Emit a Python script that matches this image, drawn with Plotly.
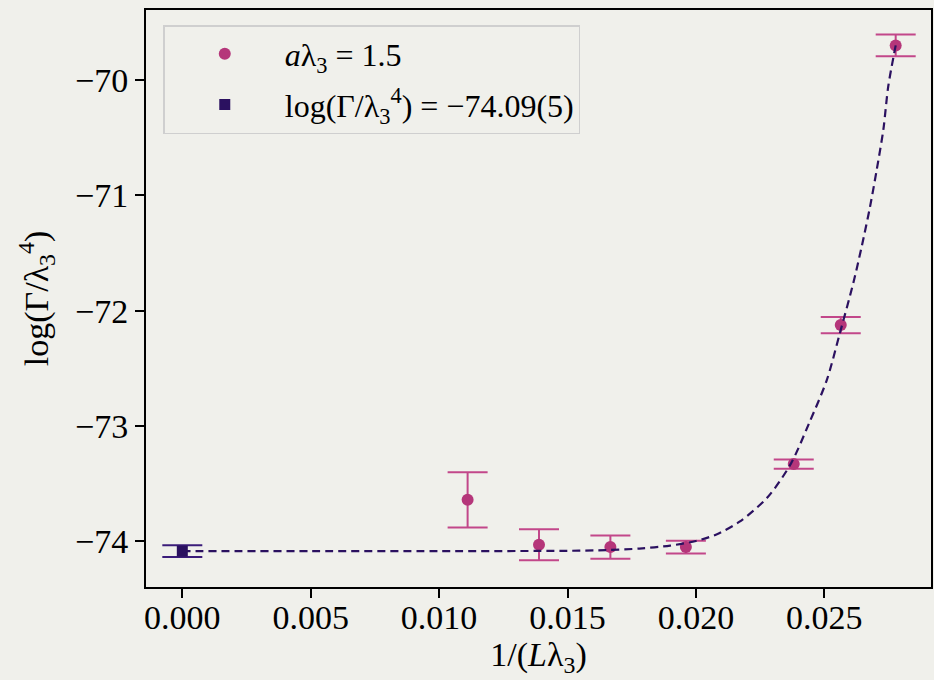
import plotly.graph_objects as go

# Data
x_pts = [0.01111, 0.01389, 0.01667, 0.01961, 0.02381, 0.02564, 0.02778]
y_pts = [-73.64, -74.03, -74.05, -74.05, -73.33, -72.125, -69.70]
y_err = [0.24, 0.135, 0.10, 0.055, 0.04, 0.07, 0.095]

x_extrap = [0.0]
y_extrap = [-74.085]
err_extrap = [0.05]

# Fit curve
x_fit = [0.0, 0.005, 0.010, 0.015, 0.0165, 0.0178, 0.0190, 0.0200, 0.0208, 0.0217,
         0.0228, 0.0237, 0.0244, 0.0251, 0.0256, 0.02613, 0.02646, 0.02678,
         0.02704, 0.0273, 0.02749, 0.02778]
y_fit = [-74.085, -74.085, -74.085, -74.082, -74.076, -74.063, -74.037, -73.997,
         -73.94, -73.83, -73.616, -73.326, -72.98, -72.60, -72.20, -71.76, -71.44,
         -71.10, -70.78, -70.43, -70.056, -69.70]

label_pts = "<i>a</i>λ<sub>3</sub> = 1.5"
label_extrap = "log(Γ/λ<sub>3</sub><sup>4</sup>) = −74.09(5)"

BG = "#f0f0eb"
MAG = "#b5367a"
MAG_ERR = "#c2478a"
DARK = "#2b1160"
DARK_ERR = "#3b1c7a"
FONT = "Liberation Serif"

fig = go.Figure()

fig.add_trace(go.Scatter(
    x=x_pts, y=y_pts, mode="markers", name=label_pts, legendgroup="a",
    marker=dict(color=MAG, size=12, symbol="circle"),
    error_y=dict(type="data", array=y_err, visible=True, color=MAG_ERR,
                 thickness=2, width=20),
))
fig.add_trace(go.Scatter(
    x=x_extrap, y=y_extrap, mode="markers", name=label_extrap, legendgroup="b",
    marker=dict(color=DARK, size=11, symbol="square"),
    error_y=dict(type="data", array=err_extrap, visible=True, color=DARK_ERR,
                 thickness=2, width=20),
))
fig.add_trace(go.Scatter(
    x=x_fit, y=y_fit, mode="lines", showlegend=False, legendgroup="c",
    line=dict(color=DARK, width=2.2, dash="8px,5px", shape="spline", smoothing=0.8),
    hoverinfo="skip",
))

axis_common = dict(
    showline=True, linecolor="black", linewidth=2, mirror=True,
    ticks="outside", ticklen=9, tickwidth=1.6, tickcolor="black",
    showgrid=False, zeroline=False, automargin=False,
    tickfont=dict(family=FONT, size=34, color="black"),
)

fig.update_xaxes(
    range=[-0.001414, 0.029155], tick0=0, dtick=0.005, tickformat=".3f",
    ticklabelstandoff=-10,
    title=dict(text="1/(<i>L</i>λ<sub>3</sub>)", font=dict(family=FONT, size=34, color="black"),
               standoff=6),
    **axis_common,
)
fig.update_yaxes(
    range=[-74.396, -69.393], tick0=-74, dtick=1,
    title=dict(text="log(Γ/λ<sub>3</sub><sup>4</sup>)", font=dict(family=FONT, size=34, color="black"),
               standoff=16),
    **axis_common,
)

fig.update_layout(
    width=934, height=680,
    paper_bgcolor=BG, plot_bgcolor=BG,
    margin=dict(l=146, r=3, t=10, b=93, pad=0),
    font=dict(family=FONT, color="black"),
    legend=dict(
        x=0.022, y=0.974, xanchor="left", yanchor="top",
        bgcolor=BG, bordercolor="#cfcfcf", borderwidth=1.5,
        font=dict(family=FONT, size=32, color="black"),
        itemwidth=110, traceorder="grouped", tracegroupgap=6,
    ),
    showlegend=True,
)

fig.write_html("out.html", config={"displayModeBar": False},
               post_script="document.body.style.margin='0';document.body.style.background='#f0f0eb';")
